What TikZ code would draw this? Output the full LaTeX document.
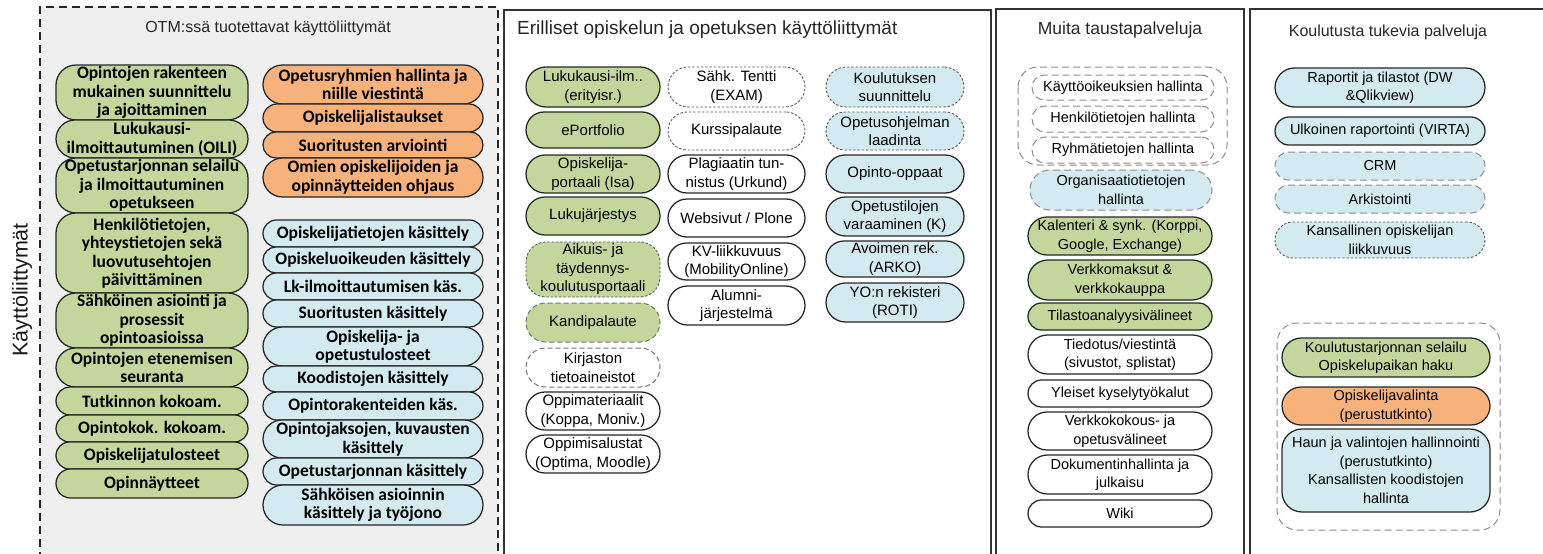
\documentclass[tikz,border=0pt]{standalone}
\usepackage{fontspec}
\setmainfont{Liberation Sans}
\newfontfamily\calfont{Carlito}
\definecolor{grn}{HTML}{C3D69B}
\definecolor{org}{HTML}{F7B27C}
\definecolor{blu}{HTML}{D3EAF1}
\definecolor{pbg}{HTML}{EFEFEF}
\definecolor{edge}{HTML}{262626}
\tikzset{
  bx/.style={draw=edge, line width=1.25pt, align=center, inner sep=0pt, text=black},
  pa/.style={bx, font=\calfont\bfseries\fontsize{17.5}{18.5}\selectfont},
  pb/.style={bx, font=\fontsize{15}{18.5}\selectfont},
  pc/.style={bx, font=\fontsize{14.5}{18.5}\selectfont},
  gf/.style={fill=grn}, of/.style={fill=org}, bf/.style={fill=blu}, wf/.style={fill=white},
  finedash/.style={dash pattern=on 2.5pt off 1.8pt, draw=black!65, line width=0.9pt},
  meddash/.style={dash pattern=on 5pt off 3pt, draw=black!55, line width=1pt},
  graydash/.style={dash pattern=on 7pt off 4pt, draw=black!45, line width=1pt},
  panel/.style={draw=black!80, line width=1.3pt},
  grp/.style={graydash, rounded corners=20pt},
  ttl/.style={inner sep=0pt, text=black!85},
}
\newcommand\mybox[7]{%
  \pgfmathsetmacro\bw{#5-#3}%
  \pgfmathsetmacro\bh{#6-#4}%
  \pgfmathsetmacro\br{min(\bh/2,20)}%
  \node[#2, minimum width=\bw pt, minimum height=\bh pt, rounded corners=\br pt] (#1) at ({(#3+#5)/2},{(#4+#6)/2}) {#7};}
\begin{document}
\begin{tikzpicture}[x=1pt,y=-1pt]
\useasboundingbox (0,0) rectangle (1543,554);
% panels
\fill[pbg] (40,7) rectangle (498,560);
\draw[black!85, line width=1.2pt, dash pattern=on 8pt off 5pt] (40,560) -- (40,7) -- (498,7) -- (498,560);
\draw[panel] (504,560) -- (504,10) -- (991,10) -- (991,560);
\draw[panel] (996,560) -- (996,9) -- (1244,9) -- (1244,560);
\draw[panel] (1250,560) -- (1250,9) -- (1543,9);
% titles
\node[rotate=90, font=\fontsize{21.5}{26}\selectfont, inner sep=0pt, text=black!90] (side) at (22,290) {Käyttöliittymät};
\node[ttl, font=\fontsize{16}{19}\selectfont] (t1) at (268,28) {OTM:ssä tuotettavat käyttöliittymät};
\node[ttl, font=\fontsize{19}{22}\selectfont, anchor=west] (t2) at (517,30) {Erilliset opiskelun ja opetuksen käyttöliittymät};
\node[ttl, font=\fontsize{17.5}{20}\selectfont] (t3) at (1120,30) {Muita taustapalveluja};
\node[ttl, font=\fontsize{16}{19}\selectfont] (t4) at (1388,32) {Koulutusta tukevia palveluja};
% groups
\draw[grp] (1018,67) rectangle (1227,165);
\draw[grp] (1277,323) rectangle (1500,530);
% panel 1, column 1
\mybox{g1}{pa,gf}{56}{65}{248}{120}{Opintojen rakenteen\\mukainen suunnittelu\\ja ajoittaminen}
\mybox{g2}{pa,gf}{56}{120}{248}{158}{Lukukausi-\\ilmoittautuminen (OILI)}
\mybox{g3}{pa,gf}{56}{158}{248}{213}{Opetustarjonnan selailu\\ja ilmoittautuminen\\opetukseen}
\mybox{g4}{pa,gf}{56}{213}{248}{293}{Henkilötietojen,\\yhteystietojen sekä\\luovutusehtojen\\päivittäminen}
\mybox{g5}{pa,gf}{56}{293}{248}{348}{Sähköinen asiointi ja\\prosessit\\opintoasioissa}
\mybox{g6}{pa,gf}{56}{348}{248}{387}{Opintojen etenemisen\\seuranta}
\mybox{g7}{pa,gf}{56}{387}{248}{415}{Tutkinnon kokoam.}
\mybox{g8}{pa,gf}{56}{415}{248}{442}{Opintokok. kokoam.}
\mybox{g9}{pa,gf}{56}{442}{248}{469}{Opiskelijatulosteet}
\mybox{g10}{pa,gf}{56}{469}{248}{498}{Opinnäytteet}
% panel 1, column 2
\mybox{o1}{pa,of}{263}{65}{483}{104}{Opetusryhmien hallinta ja\\niille viestintä}
\mybox{o2}{pa,of}{263}{104}{483}{132}{Opiskelijalistaukset}
\mybox{o3}{pa,of}{263}{132}{483}{158}{Suoritusten arviointi}
\mybox{o4}{pa,of}{263}{158}{483}{197}{Omien opiskelijoiden ja\\opinnäytteiden ohjaus}
\mybox{b1}{pa,bf}{263}{220}{483}{247}{Opiskelijatietojen käsittely}
\mybox{b2}{pa,bf}{263}{247}{483}{273}{Opiskeluoikeuden käsittely}
\mybox{b3}{pa,bf}{263}{273}{483}{300}{Lk-ilmoittautumisen käs.}
\mybox{b4}{pa,bf}{263}{300}{483}{327}{Suoritusten käsittely}
\mybox{b5}{pa,bf}{263}{327}{483}{366}{Opiskelija- ja\\opetustulosteet}
\mybox{b6}{pa,bf}{263}{366}{483}{392}{Koodistojen käsittely}
\mybox{b7}{pa,bf}{263}{392}{483}{420}{Opintorakenteiden käs.}
\mybox{b8}{pa,bf}{263}{420}{483}{458}{Opintojaksojen, kuvausten\\käsittely}
\mybox{b9}{pa,bf}{263}{458}{483}{485}{Opetustarjonnan käsittely}
\mybox{b10}{pa,bf}{263}{485}{483}{525}{Sähköisen asioinnin\\käsittely ja työjono}
% panel 2, column A
\mybox{a1}{pb,gf}{526}{67}{660}{107}{Lukukausi-ilm..\\(erityisr.)}
\mybox{a2}{pb,gf}{526}{112}{660}{148}{ePortfolio}
\mybox{a3}{pb,gf}{526}{155}{660}{193}{Opiskelija-\\portaali (Isa)}
\mybox{a4}{pb,gf}{526}{197}{660}{235}{Lukujärjestys}
\mybox{a5}{pb,gf,finedash}{526}{242}{660}{297}{Aikuis- ja\\täydennys-\\koulutusportaali}
\mybox{a6}{pb,gf,meddash}{526}{303}{660}{342}{Kandipalaute}
\mybox{a7}{pb,wf,meddash}{526}{348}{660}{387}{Kirjaston\\tietoaineistot}
\mybox{a8}{pb,wf}{526}{392}{660}{430}{Oppimateriaalit\\(Koppa, Moniv.)}
\mybox{a9}{pb,wf}{526}{435}{660}{473}{Oppimisalustat\\(Optima, Moodle)}
% panel 2, column B
\mybox{c1}{pb,wf,finedash}{668}{67}{805}{107}{Sähk. Tentti\\(EXAM)}
\mybox{c2}{pb,wf,finedash}{668}{112}{805}{150}{Kurssipalaute}
\mybox{c3}{pb,wf}{668}{155}{805}{193}{Plagiaatin tun-\\nistus (Urkund)}
\mybox{c4}{pb,wf}{668}{199}{805}{237}{Websivut / Plone}
\mybox{c5}{pb,wf}{668}{243}{805}{280}{KV-liikkuvuus\\(MobilityOnline)}
\mybox{c6}{pb,wf}{668}{286}{805}{325}{Alumni-\\järjestelmä}
% panel 2, column C
\mybox{d1}{pb,bf,finedash}{826}{67}{964}{107}{Koulutuksen\\suunnittelu}
\mybox{d2}{pb,bf,finedash}{826}{112}{964}{150}{Opetusohjelman\\laadinta}
\mybox{d3}{pb,bf}{826}{155}{964}{193}{Opinto-oppaat}
\mybox{d4}{pb,bf}{826}{197}{964}{236}{Opetustilojen\\varaaminen (K)}
\mybox{d5}{pb,bf}{826}{241}{964}{277}{Avoimen rek.\\(ARKO)}
\mybox{d6}{pb,bf}{826}{283}{964}{322}{YO:n rekisteri\\(ROTI)}
% panel 3
\mybox{m1}{pc,wf,graydash}{1032}{75}{1214}{100}{Käyttöoikeuksien hallinta}
\mybox{m2}{pc,wf,graydash}{1032}{106}{1214}{132}{Henkilötietojen hallinta}
\mybox{m3}{pc,wf,graydash}{1032}{137}{1214}{163}{Ryhmätietojen hallinta}
\mybox{m4}{pc,bf,graydash}{1030}{170}{1212}{210}{Organisaatiotietojen\\hallinta}
\mybox{m5}{pc,gf}{1028}{217}{1212}{255}{Kalenteri \& synk. (Korppi,\\Google, Exchange)}
\mybox{m6}{pc,gf}{1028}{260}{1212}{300}{Verkkomaksut \&\\verkkokauppa}
\mybox{m7}{pc,gf}{1028}{303}{1212}{330}{Tilastoanalyysivälineet}
\mybox{m8}{pc,wf}{1028}{335}{1212}{374}{Tiedotus/viestintä\\(sivustot, splistat)}
\mybox{m9}{pc,wf}{1028}{380}{1212}{407}{Yleiset kyselytyökalut}
\mybox{m10}{pc,wf}{1028}{412}{1212}{450}{Verkkokokous- ja\\opetusvälineet}
\mybox{m11}{pc,wf}{1028}{455}{1212}{494}{Dokumentinhallinta ja\\julkaisu}
\mybox{m12}{pc,wf}{1028}{500}{1212}{527}{Wiki}
% panel 4
\mybox{k1}{pc,bf}{1275}{68}{1485}{107}{Raportit ja tilastot (DW\\\&Qlikview)}
\mybox{k2}{pc,bf}{1275}{117}{1485}{145}{Ulkoinen raportointi (VIRTA)}
\mybox{k3}{pc,bf,graydash}{1275}{152}{1485}{180}{CRM}
\mybox{k4}{pc,bf,graydash}{1275}{185}{1485}{213}{Arkistointi}
\mybox{k5}{pc,bf,finedash}{1275}{222}{1485}{258}{Kansallinen opiskelijan\\liikkuvuus}
\mybox{k6}{pc,gf}{1282}{338}{1490}{377}{Koulutustarjonnan selailu\\Opiskelupaikan haku}
\mybox{k7}{pc,of}{1282}{387}{1490}{425}{Opiskelijavalinta\\(perustutkinto)}
\mybox{k8}{pc,bf}{1282}{429}{1490}{512}{Haun ja valintojen hallinnointi\\(perustutkinto)\\Kansallisten koodistojen\\hallinta}
\end{tikzpicture}
\end{document}
